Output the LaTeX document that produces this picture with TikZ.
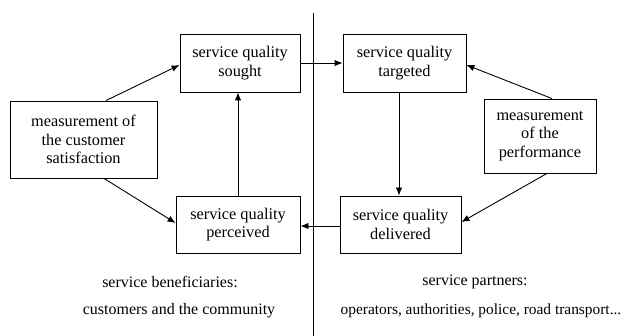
\documentclass[tikz,border=0pt]{standalone}
\usepackage{fontspec}
\setmainfont{Liberation Serif}
\usetikzlibrary{arrows.meta}
\begin{document}
\begin{tikzpicture}[x=1pt,y=-1pt,
  box/.style={draw,line width=0.9pt,align=center,inner sep=0pt,font=\fontsize{16.3}{18.5}\selectfont},
  lbl/.style={inner sep=0pt,font=\fontsize{16}{18.5}\selectfont},
  arr/.style={line width=0.9pt,-{Latex[length=8pt,width=6.5pt]}}]
\useasboundingbox (0,0) rectangle (627,336);
\node[box,minimum width=120pt,minimum height=58pt] (sought) at (240,63) {service quality\\sought};
\node[box,minimum width=123pt,minimum height=58pt] (targeted) at (404.5,63) {service quality\\targeted};
\node[box,minimum width=124pt,minimum height=57pt] (perceived) at (238,224.5) {service quality\\perceived};
\node[box,minimum width=121pt,minimum height=57pt] (delivered) at (400.5,224.5) {service quality\\delivered};
\node[box,minimum width=147pt,minimum height=77pt] (measL) at (83.5,139.5) {measurement of\\the customer\\satisfaction};
\node[box,minimum width=112pt,minimum height=74pt] (measR) at (540,136) {measurement\\of the\\performance};
\coordinate (vtop) at (313,13);
\coordinate (vbot) at (313,336);
\draw[line width=0.9pt] (vtop) -- (vbot);
\draw[arr] ([xshift=22.5pt]measL.north) -- ([yshift=-2pt]sought.west);
\draw[arr] ([xshift=20.5pt]measL.south) -- ([yshift=1.5pt]perceived.west);
\draw[arr] (perceived.north) -- (perceived.north |- sought.south);
\draw[arr] (sought.east) -- (targeted.west);
\draw[arr] ([xshift=-5.5pt]targeted.south) -- ([xshift=-5.5pt]targeted.south |- delivered.north);
\draw[arr] ([xshift=12pt]measR.north) -- ([yshift=-2pt]targeted.east);
\draw[arr] ([xshift=7pt]measR.south) -- ([yshift=2.5pt]delivered.east);
\draw[arr] ([yshift=-1.5pt]delivered.west) -- ([yshift=-1.5pt]perceived.east);
\node[lbl] (benef) at (170,282) {service beneficiaries:};
\node[lbl] (cust) at (179,311) {customers and the community};
\node[lbl] (partners) at (475,282) {service partners:};
\node[lbl,font=\fontsize{15.4}{18}\selectfont] (ops) at (481,311) {operators, authorities, police, road transport...};
\end{tikzpicture}
\end{document}
